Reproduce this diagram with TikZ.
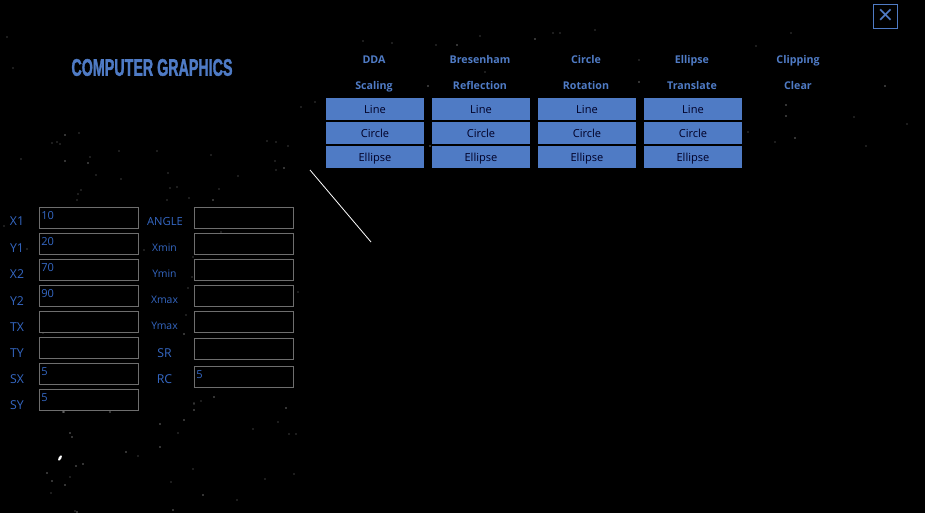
\documentclass[tikz,border=0pt]{standalone}
\usepackage{fontspec}
\setmainfont{Open Sans}
\newfontfamily\titlefont[FakeBold=2]{Liberation Sans Bold}
\usetikzlibrary{calc,positioning}
\definecolor{panelblue}{HTML}{4F7BC5}
\definecolor{labelblue}{HTML}{3568C4}
\definecolor{fieldgray}{HTML}{6E6E6E}

\begin{document}
\begin{tikzpicture}[
  x=0.75pt, y=-0.75pt,
  btn/.style={rectangle, fill=panelblue, minimum width=73.5pt, minimum height=16.5pt, inner sep=0pt, text height=8pt, text depth=1.8pt, text=black!85!blue, font=\fontsize{8.3}{9}\selectfont},
  head/.style={text=panelblue, inner sep=0pt, text height=8pt, text depth=1.8pt, font=\fontsize{8}{9}\selectfont\bfseries},
  field/.style={rectangle, draw=fieldgray, line width=0.75pt, minimum width=74.25pt, minimum height=15.75pt, inner sep=0pt, anchor=north west},
  fieldval/.style={text=labelblue, inner sep=0pt, anchor=north west, xshift=1.5pt, yshift=-3.2pt, font=\fontsize{8.3}{9}\selectfont},
  fieldlbl/.style={text=labelblue, inner sep=0pt, text height=6.8pt, text depth=0pt, font=\fontsize{9.2}{10}\selectfont},
  smalllbl/.style={text=labelblue, inner sep=0pt, text height=6.8pt, text depth=0pt, font=\fontsize{7.8}{10}\selectfont}
]
  \fill[black] (0,0) rectangle (925,513);
  \useasboundingbox (0,0) rectangle (925,513);

  \foreach \sx/\sy in {63/412,110/412,286/408,184/420,194/410,160/424,70/433,72/437,160/447,126/452,76/466,83/464,47/473,52/481,65/485,203/495,173/510,77/512,65/135,88/163,65/161,284/168,213/200,184/334,214/397,64/412,428/86,430/146,535/39,457/45,786/105,786/116,795/138,885/86,639/82}
    \fill[white!90!black] (\sx,\sy) circle (0.55pt);
  \foreach \sx/\sy in {194/404,201/401,178/433,138/456,70/477,51/493,75/511,265/479,237/500,294/474,278/422,253/429,289/434,296/434,171/482,193/469,157/151,119/151,90/157,211/155,276/142,267/141,288/146,275/161,276/170,238/176,168/173,177/187,170/188,96/175,81/190,78/194,77/200,121/179,21/159,57/142,52/143,60/144,79/133,301/107,219/189,167/200,189/198,221/232,193/257,144/250,27/249,194/403,186/315,188/288,4/226,43/333,192/277,298/292,775/142,854/117,907/124,866/146,748/132,639/60,756/46,791/33,485/72,436/45,315/102,595/30,553/33,560/33,480/36,363/41,392/43,13/68,7/37}
    \fill[white!50!black] (\sx,\sy) circle (0.4pt);
  \fill[white, rotate around={60:(60,458)}] (60,458) ellipse (2.2pt and 1pt);

  \node[text=panelblue, inner sep=0pt] (title) at (152,67.5) {\scalebox{.595}[1]{\titlefont\fontsize{18}{20}\selectfont COMPUTER GRAPHICS}};

  \node[draw=panelblue, line width=0.75pt, minimum size=18pt, inner sep=0pt, text=panelblue] (closebtn) at (885.5,16.5) {\fontsize{20}{20}\selectfont ×};

  \node[head] (dda) at (374,59) {DDA};
  \node[head] (bresenham) at (480,59) {Bresenham};
  \node[head] (circlehd) at (586,59) {Circle};
  \node[head] (ellipsehd) at (692,59) {Ellipse};
  \node[head] (clipping) at (798,59) {Clipping};
  \node[head] (scaling) at (374,85) {Scaling};
  \node[head] (reflection) at (480,85) {Reflection};
  \node[head] (rotation) at (586,85) {Rotation};
  \node[head] (translate) at (692,85) {Translate};
  \node[head] (clear) at (798,85) {Clear};

  \node[btn] (lineA) at (375,109) {Line};
  \node[btn] (circleA) at (375,133) {Circle};
  \node[btn] (ellipseA) at (375,157) {Ellipse};
  \node[btn] (lineB) at (481,109) {Line};
  \node[btn] (circleB) at (481,133) {Circle};
  \node[btn] (ellipseB) at (481,157) {Ellipse};
  \node[btn] (lineC) at (587,109) {Line};
  \node[btn] (circleC) at (587,133) {Circle};
  \node[btn] (ellipseC) at (587,157) {Ellipse};
  \node[btn] (lineD) at (693,109) {Line};
  \node[btn] (circleD) at (693,133) {Circle};
  \node[btn] (ellipseD) at (693,157) {Ellipse};

  \node[field] (x1) at (39,207) {};
  \node[field] (y1) at (39,233) {};
  \node[field] (x2) at (39,259) {};
  \node[field] (y2) at (39,285) {};
  \node[field] (tx) at (39,311) {};
  \node[field] (ty) at (39,337) {};
  \node[field] (sx) at (39,363) {};
  \node[field] (sy) at (39,389) {};
  \node[field] (angle) at (194,207) {};
  \node[field] (xmin) at (194,233) {};
  \node[field] (ymin) at (194,259) {};
  \node[field] (xmax) at (194,285) {};
  \node[field] (ymax) at (194,311) {};
  \node[field] (sr) at (194,338) {};
  \node[field] (rc) at (194,366) {};

  \node[fieldval] (x1val) at (x1.north west) {10};
  \node[fieldval] (y1val) at (y1.north west) {20};
  \node[fieldval] (x2val) at (x2.north west) {70};
  \node[fieldval] (y2val) at (y2.north west) {90};
  \node[fieldval] (sxval) at (sx.north west) {5};
  \node[fieldval] (syval) at (sy.north west) {5};
  \node[fieldval] (rcval) at (rc.north west) {5};

  \node[fieldlbl] (x1lbl) at (17,221) {X1};
  \node[fieldlbl] (y1lbl) at (17,248) {Y1};
  \node[fieldlbl] (x2lbl) at (17,274) {X2};
  \node[fieldlbl] (y2lbl) at (17,300.5) {Y2};
  \node[fieldlbl] (txlbl) at (17,326.5) {TX};
  \node[fieldlbl] (tylbl) at (17,353) {TY};
  \node[fieldlbl] (sxlbl) at (17,379) {SX};
  \node[fieldlbl] (sylbl) at (17,405) {SY};
  \node[fieldlbl, font=\fontsize{8.4}{10}\selectfont] (anglelbl) at (165,221) {ANGLE};
  \node[smalllbl] (xminlbl) at (164.5,247) {Xmin};
  \node[smalllbl] (yminlbl) at (164.5,273) {Ymin};
  \node[smalllbl] (xmaxlbl) at (164.5,299) {Xmax};
  \node[smalllbl] (ymaxlbl) at (164.5,325) {Ymax};
  \node[fieldlbl] (srlbl) at (164.5,353) {SR};
  \node[fieldlbl] (rclbl) at (164.5,379) {RC};

  \coordinate (linestart) at (310,170);
  \coordinate (lineend) at (371,242);
  \draw[white, line width=0.6pt] (linestart) -- (lineend);
\end{tikzpicture}
\end{document}
